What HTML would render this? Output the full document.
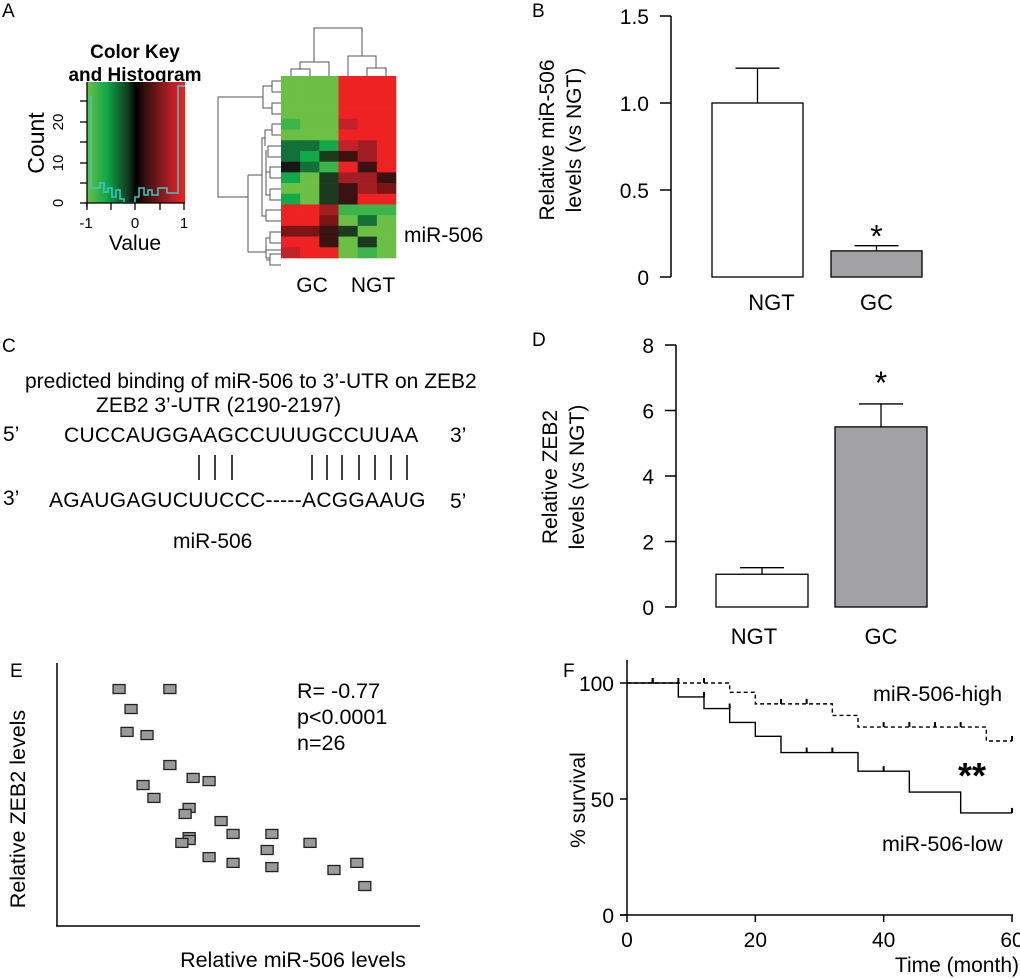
<!DOCTYPE html>
<html><head><meta charset="utf-8"><style>
html,body{margin:0;padding:0;background:#fff;}
svg{display:block;font-family:"Liberation Sans",Arial,sans-serif;}
</style></head><body>
<svg id="fig" width="1020" height="979" viewBox="0 0 1020 979" xmlns="http://www.w3.org/2000/svg">
<defs>
<linearGradient id="ck" x1="0" x2="1" y1="0" y2="0">
<stop offset="0" stop-color="#6cbf45"/><stop offset="0.2" stop-color="#10a84a"/><stop offset="0.42" stop-color="#123a1e"/><stop offset="0.5" stop-color="#000"/><stop offset="0.6" stop-color="#3a1010"/><stop offset="0.85" stop-color="#b01e24"/><stop offset="1" stop-color="#ee2222"/>
</linearGradient>
</defs>
<!-- Panel A -->
<g>
<text x="2" y="17" font-size="19">A</text>
<text x="135" y="58" font-size="19" font-weight="bold" text-anchor="middle">Color Key</text>
<text x="135" y="81" font-size="19" font-weight="bold" text-anchor="middle">and Histogram</text>
<rect x="87" y="82" width="98" height="121" fill="url(#ck)"/>
<polyline fill="none" stroke="#3cc8c8" stroke-width="1.5" points="89,97 91,97 91,188 100,188 100,183 104,183 104,192 108,192 108,188 112,188 112,197 116,197 116,190 120,190 120,199 124,199 124,203 131,203 131,203 135,203 135,197 139,197 139,188 144,188 144,195 148,195 148,190 152,190 152,195 158,195 158,188 167,188 167,193 178,193 178,86 185,86"/>
<line x1="87" y1="82" x2="87" y2="207" stroke="#000" stroke-width="1.3"/>
<line x1="85" y1="203" x2="185" y2="203" stroke="#000" stroke-width="1.3"/>
<g stroke="#000" stroke-width="1.3">
<line x1="80" y1="203" x2="87" y2="203"/><line x1="80" y1="183" x2="87" y2="183"/><line x1="80" y1="163" x2="87" y2="163"/><line x1="80" y1="142" x2="87" y2="142"/><line x1="80" y1="122" x2="87" y2="122"/><line x1="80" y1="101" x2="87" y2="101"/>
<line x1="87" y1="203" x2="87" y2="210"/><line x1="111" y1="203" x2="111" y2="210"/><line x1="135" y1="203" x2="135" y2="210"/><line x1="160" y1="203" x2="160" y2="210"/><line x1="184" y1="203" x2="184" y2="210"/>
</g>
<g font-size="15" text-anchor="middle">
<text transform="translate(63,203) rotate(-90)">0</text>
<text transform="translate(63,163) rotate(-90)">10</text>
<text transform="translate(63,122) rotate(-90)">20</text>
</g>
<text transform="translate(44,143) rotate(-90)" font-size="23" text-anchor="middle">Count</text>
<g font-size="15" text-anchor="middle">
<text x="86" y="228">-1</text><text x="135" y="228">0</text><text x="184" y="228">1</text>
</g>
<text x="135" y="250" font-size="21" text-anchor="middle">Value</text>
<g id="heatmap"></g>
<g fill="none" stroke="#555" stroke-width="1">
<path d="M291,76V69H310V76M300,69V62H329V76M314,62V28H362V56M348,76V56H376V68M367,76V68H386V76"/>
</g>
<g fill="none" stroke="#555" stroke-width="1">
<path d="M281,81H272V92H281M281,103H272V114H281M272,86H263V108H272M263,97H218V197H248"/>
<path d="M281,124H272V135H281M272,130H265V146M281,146H268V157H281M281,167H270V178H281M281,189H270V200H281M281,210H266V221H281M270,172H266V195H270M266,150V183M265,138H262V216H266M262,175H248"/>
<path d="M281,232H270V243H281M281,254H270V265H281M270,238H266V250H281M270,260H266M266,244V258H270M266,252H248V175"/>
</g>
<text x="404" y="242" font-size="21">miR-506</text>
<text x="312" y="292" font-size="21" text-anchor="middle">GC</text>
<text x="373" y="292" font-size="21" text-anchor="middle">NGT</text>
</g>

<!-- Panel B -->
<g id="panelB">
<text x="532" y="17" font-size="19">B</text>
<text transform="translate(554,140) rotate(-90)" font-size="21" text-anchor="middle">Relative miR-506</text>
<text transform="translate(581,140) rotate(-90)" font-size="21" text-anchor="middle">levels (vs NGT)</text>
</g>

<!-- Panel C -->
<g font-size="21">
<text x="2" y="352" font-size="19">C</text>
<text x="25" y="388">predicted binding of miR-506 to 3’-UTR on ZEB2</text>
<text x="96" y="412">ZEB2 3’-UTR (2190-2197)</text>
<text x="3" y="441">5’</text>
<text x="64" y="442" letter-spacing="0.3">CUCCAUGGAAGCCUUUGCCUUAA</text>
<text x="450" y="442">3’</text>
<g stroke="#000" stroke-width="1.5">
<line x1="199" y1="455" x2="199" y2="480"/><line x1="215" y1="455" x2="215" y2="480"/><line x1="232" y1="455" x2="232" y2="480"/>
<line x1="312" y1="455" x2="312" y2="480"/><line x1="327" y1="455" x2="327" y2="480"/><line x1="342" y1="455" x2="342" y2="480"/><line x1="359" y1="455" x2="359" y2="480"/><line x1="375" y1="455" x2="375" y2="480"/><line x1="391" y1="455" x2="391" y2="480"/><line x1="407" y1="455" x2="407" y2="480"/>
</g>
<text x="3" y="505">3’</text>
<text x="49" y="507" letter-spacing="0.3">AGAUGAGUCUUCCC-----ACGGAAUG</text>
<text x="450" y="508">5’</text>
<text x="173" y="548">miR-506</text>
</g>

<!-- Panel D -->
<g id="panelD">
<text x="532" y="346" font-size="19">D</text>
<text transform="translate(557,477) rotate(-90)" font-size="21" text-anchor="middle">Relative ZEB2</text>
<text transform="translate(584,477) rotate(-90)" font-size="21" text-anchor="middle">levels (vs NGT)</text>
</g>

<!-- Panel E -->
<g id="panelE">
<text x="10" y="677" font-size="19">E</text>
<line x1="57" y1="663" x2="57" y2="926" stroke="#000" stroke-width="1.5"/>
<line x1="56" y1="926" x2="420" y2="926" stroke="#000" stroke-width="1.5"/>
<text transform="translate(25,809) rotate(-90)" font-size="21.5" text-anchor="middle">Relative ZEB2 levels</text>
<text x="293" y="967" font-size="21.5" text-anchor="middle">Relative miR-506 levels</text>
<text x="297" y="698" font-size="21.5">R= -0.77</text>
<text x="297" y="724" font-size="21.5">p&lt;0.0001</text>
<text x="297" y="750" font-size="21.5">n=26</text>
</g>

<!-- Panel F -->
<g id="panelF">
<text x="563" y="677" font-size="19">F</text>
<text transform="translate(585,800) rotate(-90)" font-size="21" text-anchor="middle">% survival</text>
<text x="1019" y="972" font-size="21" text-anchor="end">Time (month)</text>
<text x="873" y="701" font-size="21.5">miR-506-high</text>
<text x="882" y="851" font-size="21.5">miR-506-low</text>
<text x="972" y="788" font-size="36" font-weight="bold" text-anchor="middle">**</text>
</g>
</svg>
<script>
// ---------- Panel A heatmap data ----------
const hmColors = {G:'#6cbf45',g:'#3bb54a',m:'#13a84a',d:'#137038',k:'#1c3a20',x:'#161616',R:'#ee2222',r:'#c0232a',e:'#a31e22',q:'#7b1515',z:'#3a1212'};
const hmRows = ['GGGRRR','GGGRRR','GGGRRR','GGGRRR','gGGrRR','GGGRRR','ddmreR','dmkzeR','xdgRzR','mGkeez','GGkzeq','mGkzRR','RReggg','RRqGdG','qqzkGG','RRzGkG','rRRGgG'];
const NS='http://www.w3.org/2000/svg';
function mk(tag, parent, attrs){const el=document.createElementNS(NS,tag);for(const k in attrs)el.setAttribute(k,attrs[k]);parent.appendChild(el);return el;}
const hm=document.getElementById('heatmap');
const hmX0=281,hmX1=396,hmY0=76,hmY1=258;
const cw=(hmX1-hmX0)/6, ch=(hmY1-hmY0)/hmRows.length;
hmRows.forEach((row,i)=>{[...row].forEach((c,j)=>{
 const el=mk('rect',hm,{x:hmX0+j*cw,y:hmY0+i*ch,width:cw+0.3,height:ch+0.3,fill:hmColors[c]});
 
 
});});

// ---------- Bar charts (B, D) ----------
const groups = ['NGT','GC'];
const miR506Values = [1.0, 0.15];
const miR506Errors = [0.2, 0.03];
const miR506Ticks = [0, 0.5, 1.0, 1.5];
const miR506TickLabels = ['0','0.5','1.0','1.5'];
const zeb2Values = [1.0, 5.5];
const zeb2Errors = [0.2, 0.7];
const zeb2Ticks = [0, 2, 4, 6, 8];
const zeb2TickLabels = ['0','2','4','6','8'];
const barSig = [false, true];

function barChart(g, o){
 const y=v=>o.y0-(v-o.min)/(o.max-o.min)*(o.y0-o.y1);
 const ax=mk('line',g,{x1:o.ax,y1:y(o.max),x2:o.ax,y2:y(o.min),stroke:'#000','stroke-width':1.5});
 
 
 o.ticks.forEach((t,i)=>{
  const tk=mk('line',g,{x1:o.ax-11,y1:y(t),x2:o.ax,y2:y(t),stroke:'#000','stroke-width':1.5});
  
  
  const tl=mk('text',g,{x:o.ax-22,y:y(t)+8,'font-size':21,'text-anchor':'end'});
  tl.textContent=o.labels[i];
  
  
 });
 o.vals.forEach((v,i)=>{
  const x0=o.bx[i], w=o.bw, cx=x0+w/2;
  const top=y(v+o.errs[i]);
  const el=mk('line',g,{x1:cx,y1:y(v),x2:cx,y2:top,stroke:'#000','stroke-width':1.3});
  
  
  const cap=mk('line',g,{x1:cx-22,y1:top,x2:cx+22,y2:top,stroke:'#000','stroke-width':1.3});
  
  
  const b=mk('rect',g,{x:x0,y:y(v),width:w,height:y(o.min)-y(v),fill:i===0?'#fff':'#a2a2a5',stroke:'#000','stroke-width':1.3});
  
  
  const lb=mk('text',g,{x:cx+o.loff[i],y:o.labY,'font-size':22,'text-anchor':'middle'});
  lb.textContent=groups[i];
  
  
  if(barSig[i]){
   const s=mk('text',g,{x:cx,y:top+o.sigOff,'font-size':32,'text-anchor':'middle'});
   s.textContent='*';
   
   
  }
 });
}
barChart(document.getElementById('panelB'),{ax:671,y0:277,y1:16,min:0,max:1.5,ticks:miR506Ticks,labels:miR506TickLabels,vals:miR506Values,errs:miR506Errors,bx:[712,831],bw:91,labY:310,loff:[14,0],sigOff:2});
barChart(document.getElementById('panelD'),{ax:676,y0:607,y1:345,min:0,max:8,ticks:zeb2Ticks,labels:zeb2TickLabels,vals:zeb2Values,errs:zeb2Errors,bx:[716,835],bw:92,labY:644,loff:[-8,0],sigOff:-10});

// ---------- Panel E scatter ----------
const mir506Level = [17.1,31.1,20.4,19.3,24.8,31.1,37.5,41.9,23.7,26.7,36.4,35.3,45.2,36.4,48.5,59.2,36.4,34.4,69.7,57.9,41.9,48.5,59.2,82.6,76.3,84.8];
const zeb2Level   = [90.1,90.1,82.5,73.8,72.6,61.2,56.3,55.1,53.6,48.7,44.9,42.6,39.9,33.8,35.0,35.0,32.7,31.6,31.6,28.9,26.2,24.0,22.4,24.0,21.3,15.2];
const ex=v=>57+v*3.63, ey=v=>926-v*2.63;
const gE=document.getElementById('panelE');
mir506Level.forEach((v,i)=>{
 const p=mk('rect',gE,{x:ex(v)-6,y:ey(zeb2Level[i])-4.5,width:12,height:9,fill:'#9a9a9c',stroke:'#222','stroke-width':1.3});
 
 
});

// ---------- Panel F survival ----------
const highTimes = [0,16,20,32,36,56,60];
const highSurv  = [100,96,91,86,81,75,75];
const highCensor = [4,8,12,24,28,40,44,48,52,60];
const lowTimes = [0,8,12,16,20,24,36,44,52,60];
const lowSurv  = [100,94,89,83,77,70,62,53,44,44];
const lowCensor = [4,12,16,28,32,40,60];
const fxTicks=[0,20,40,60], fyTicks=[0,50,100];
const fx=t=>627+t*(1012-627)/60, fy=s=>915-s*(915-683)/100;
const gF=document.getElementById('panelF');
let a=mk('line',gF,{x1:627,y1:660,x2:627,y2:915,stroke:'#000','stroke-width':1.5});


a=mk('line',gF,{x1:620,y1:915,x2:1013,y2:915,stroke:'#000','stroke-width':1.5});


fyTicks.forEach(t=>{
 const l=mk('line',gF,{x1:620,y1:fy(t),x2:627,y2:fy(t),stroke:'#000','stroke-width':1.5});
 
 
 const tx=mk('text',gF,{x:614,y:fy(t)+8,'font-size':21,'text-anchor':'end'});
 tx.textContent=String(t);
 
 
});
fxTicks.forEach(t=>{
 const l=mk('line',gF,{x1:fx(t),y1:915,x2:fx(t),y2:922,stroke:'#000','stroke-width':1.5});
 
 
 const tx=mk('text',gF,{x:fx(t),y:947,'font-size':21,'text-anchor':'middle'});
 tx.textContent=String(t);
 
 
});
function stepPath(T,S){let d='M'+fx(T[0])+','+fy(S[0]);for(let i=1;i<T.length;i++){d+='H'+fx(T[i])+'V'+fy(S[i]);}return d;}
function survAt(T,S,t){let s=S[0];for(let i=0;i<T.length;i++){if(T[i]<=t)s=S[i];}return s;}
function curve(T,S,C,dash,name){
 const p=mk('path',gF,{d:stepPath(T,S),fill:'none',stroke:'#000','stroke-width':1.4});
 if(dash)p.setAttribute('stroke-dasharray','4,3');
 
 
 C.forEach(t=>{
  const s=survAt(T,S,t-0.01);
  const c=mk('line',gF,{x1:fx(t),y1:fy(s),x2:fx(t),y2:fy(s)-5,stroke:'#000','stroke-width':2});
  
  
 });
}
curve(highTimes,highSurv,highCensor,true,'survival-high-curve');
curve(lowTimes,lowSurv,lowCensor,false,'survival-low-curve');
</script>
</body></html>
